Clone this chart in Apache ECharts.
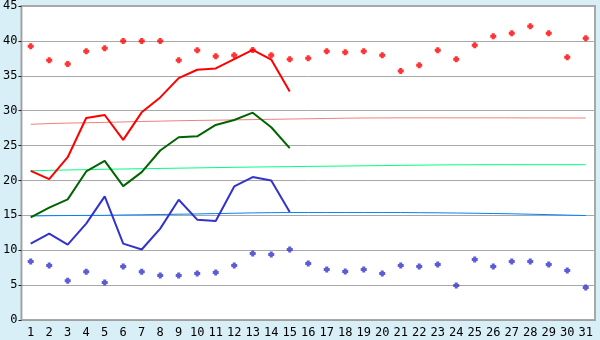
<!DOCTYPE html>
<html>
<head>
<meta charset="utf-8">
<script src="https://cdn.jsdelivr.net/npm/echarts@6/dist/echarts.min.js"></script>
<style>
html,body{margin:0;padding:0;background:#d9eff7;}
#c{width:600px;height:340px;}
</style>
</head>
<body>
<div id="c"></div>
<script>
const days = Array.from({length: 31}, (_, i) => String(i + 1));
const yTicks = [0, 5, 10, 15, 20, 25, 30, 35, 40, 45];

const redDots = [39.24, 37.24, 36.67, 38.52, 38.95, 40.0, 40.0, 40.0, 37.24, 38.67,
  37.8, 37.95, 38.7, 37.95, 37.38, 37.5, 38.52, 38.38, 38.52, 37.95,
  35.67, 36.52, 38.67, 37.38, 39.38, 40.67, 41.1, 42.1, 41.1, 37.67, 40.38];
const blueDots = [8.38, 7.81, 5.62, 6.9, 5.38, 7.67, 6.9, 6.38, 6.38, 6.67,
  6.81, 7.81, 9.52, 9.38, 10.1, 8.1, 7.24, 6.95, 7.24, 6.67,
  7.81, 7.67, 7.95, 4.95, 8.67, 7.67, 8.38, 8.38, 7.95, 7.1, 4.67];
const redLine = [21.38, 20.19, 23.33, 28.95, 29.38, 25.81, 29.76, 31.9, 34.67, 35.86,
  36.05, 37.38, 38.71, 37.33, 32.76];
const greenLine = [14.71, 16.1, 17.29, 21.29, 22.81, 19.19, 21.19, 24.29, 26.19, 26.33,
  27.95, 28.67, 29.71, 27.62, 24.62];
const blueLine = [10.95, 12.38, 10.81, 13.81, 17.71, 10.95, 10.1, 13.1, 17.24, 14.38,
  14.19, 19.14, 20.48, 20.0, 15.48];
const pinkNormal = [28.05, 28.15, 28.22, 28.27, 28.32, 28.38, 28.45, 28.5, 28.56, 28.6,
  28.64, 28.68, 28.72, 28.76, 28.8, 28.84, 28.88, 28.92, 28.95, 28.96,
  28.97, 28.97, 28.97, 28.97, 28.97, 28.97, 28.97, 28.96, 28.96, 28.95, 28.95];
const greenNormal = [21.38, 21.45, 21.5, 21.55, 21.6, 21.64, 21.68, 21.72, 21.76, 21.8,
  21.84, 21.88, 21.92, 21.95, 21.98, 22.01, 22.04, 22.07, 22.1, 22.13,
  22.16, 22.19, 22.22, 22.24, 22.25, 22.26, 22.26, 22.26, 22.26, 22.26, 22.26];
const blueNormal = [14.9, 14.95, 14.97, 14.99, 15.0, 15.05, 15.08, 15.12, 15.16, 15.2,
  15.25, 15.3, 15.35, 15.38, 15.4, 15.4, 15.4, 15.4, 15.4, 15.4,
  15.4, 15.38, 15.36, 15.33, 15.3, 15.26, 15.22, 15.16, 15.1, 15.03, 14.97];

const plus = 'path://M1.25,0H3.75V1.25H5V3.75H3.75V5H1.25V3.75H0V1.25H1.25Z';
const font = '"DejaVu Sans Mono", monospace';

function lineSeries(data, color, width) {
  return {
    type: 'line', data: data, symbol: 'none', animation: false,
    lineStyle: {color: color, width: width}, z: width > 1 ? 4 : 3
  };
}
function dotSeries(data, color) {
  return {
    type: 'scatter', data: data, symbol: plus, symbolSize: 6, animation: false,
    itemStyle: {color: color}, z: 5
  };
}

const chart = echarts.init(document.getElementById('c'), null, {renderer: 'canvas'});
chart.setOption({
  backgroundColor: '#d9eff7',
  animation: false,
  grid: {left: 20, right: 5, top: 5, bottom: 20, show: true, backgroundColor: '#ffffff',
    borderColor: '#a8a8a8', borderWidth: 2},
  xAxis: {
    type: 'category', data: days, boundaryGap: true,
    axisLine: {lineStyle: {color: '#a0a0a0', width: 1}},
    axisTick: {alignWithLabel: true, length: 5, lineStyle: {color: '#202020'}},
    axisLabel: {color: '#000', fontFamily: font, fontSize: 12, margin: 7, interval: 0}
  },
  yAxis: {
    type: 'value', min: 0, max: 45, interval: 5,
    axisLine: {show: true, lineStyle: {color: '#a0a0a0', width: 1}},
    axisTick: {show: true, length: 3, lineStyle: {color: '#202020'}},
    splitLine: {lineStyle: {color: '#a8a8a8', width: 1}},
    axisLabel: {color: '#000', fontFamily: font, fontSize: 12, margin: 4,
      formatter: v => yTicks.includes(v) ? String(v) : ''}
  },
  series: [
    lineSeries(pinkNormal, '#f08080', 1),
    lineSeries(greenNormal, '#00ff80', 1),
    lineSeries(blueNormal, '#0080ff', 1),
    lineSeries(redLine, '#ff0000', 2),
    lineSeries(greenLine, '#006400', 2),
    lineSeries(blueLine, '#3333cc', 2),
    dotSeries(redDots, '#ff0000'),
    dotSeries(blueDots, '#3333cc')
  ]
});
</script>
</body>
</html>
